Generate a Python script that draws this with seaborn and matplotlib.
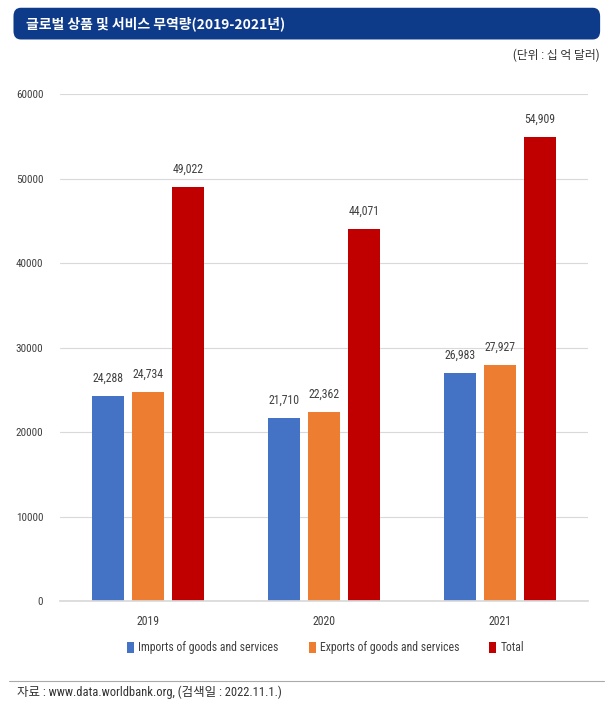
import matplotlib
matplotlib.use("Agg")
import matplotlib.pyplot as plt
from matplotlib.patches import FancyBboxPatch, Patch
from matplotlib import font_manager
import seaborn as sns
import pandas as pd

years = ["2019", "2020", "2021"]
imports = [24288, 21710, 26983]
exports = [24734, 22362, 27927]
totals = [49022, 44071, 54909]
series_names = ["Imports of goods and services", "Exports of goods and services", "Total"]
colors = ["#4472C4", "#ED7D31", "#C00000"]
yticks = [0, 10000, 20000, 30000, 40000, 50000, 60000]

rows = []
for name, vals in zip(series_names, [imports, exports, totals]):
    for y, v in zip(years, vals):
        rows.append({"year": y, "series": name, "value": v})
df = pd.DataFrame(rows)

sns.set_theme(style="white")
names = {f.name for f in font_manager.fontManager.ttflist}
narrow = None
for cand in ["Liberation Sans Narrow", "DejaVu Sans Condensed", "Roboto Condensed", "Open Sans Condensed"]:
    if cand in names:
        narrow = cand
        break
stretch = "normal"
if narrow is None:
    narrow = "DejaVu Sans"
    stretch = "condensed"
fam = [narrow, "Noto Sans CJK KR", "DejaVu Sans"]
plt.rcParams["font.family"] = fam
plt.rcParams["font.stretch"] = stretch

fig = plt.figure(figsize=(6.13, 7.05), dpi=100)
ax = fig.add_axes([0.0979, 0.1475, 0.861, 0.719])

sns.barplot(data=df, x="year", y="value", hue="series", hue_order=series_names,
            palette=colors, width=0.68, gap=0.2, ax=ax, legend=False,
            saturation=1, errorbar=None, linewidth=0, edgecolor="none")

for cont in ax.containers:
    ax.bar_label(cont, labels=[f"{v:,.0f}" for v in cont.datavalues],
                 padding=8, fontsize=8.5, color="#404040")

ax.set_ylim(0, 60000)
ax.set_xlim(-0.5, 2.5)
ax.set_yticks(yticks)
ax.set_yticklabels([str(t) for t in yticks], fontsize=8, color="#404040")
ax.tick_params(axis="x", labelsize=8.5, colors="#404040", pad=10, length=0)
ax.tick_params(axis="y", pad=12, length=0)
ax.yaxis.grid(True, color="#D9D9D9", linewidth=0.8)
ax.set_axisbelow(True)
for s in ["top", "right", "left"]:
    ax.spines[s].set_visible(False)
ax.spines["bottom"].set_color("#D9D9D9")
ax.set_xlabel("")
ax.set_ylabel("")

handles = [Patch(facecolor=c, edgecolor="none") for c in colors]
fig.legend(handles, series_names, loc="center", bbox_to_anchor=(0.531, 0.081),
           ncol=3, frameon=False, fontsize=8.5, handlelength=0.6, handleheight=1.1,
           handletextpad=0.35, columnspacing=2.55, labelcolor="#404040")

# title bar
bar = FancyBboxPatch((0.022, 0.944), 0.957, 0.045, boxstyle="round,pad=0,rounding_size=0.012",
                     transform=fig.transFigure, facecolor="#0E3A8A", edgecolor="none")
fig.patches.append(bar)
fig.text(0.042, 0.966, "글로벌 상품 및 서비스 무역량(2019-2021년)", color="white",
         fontsize=10, fontweight="bold", va="center", ha="left",
         family=["Noto Sans CJK KR", "DejaVu Sans"])
fig.text(0.978, 0.921, "(단위 : 십 억 달러)", fontsize=8.5, color="#333333", ha="right", va="center")

# footer
fig.add_artist(plt.Line2D([0.015, 0.985], [0.034, 0.034], transform=fig.transFigure,
                          color="#AAAAAA", linewidth=0.8))
fig.text(0.028, 0.018, "자료 : www.data.worldbank.org, (검색일 : 2022.11.1.)",
         fontsize=9, color="#333333", ha="left", va="center")

fig.savefig("out.png", dpi=100, facecolor="white")
